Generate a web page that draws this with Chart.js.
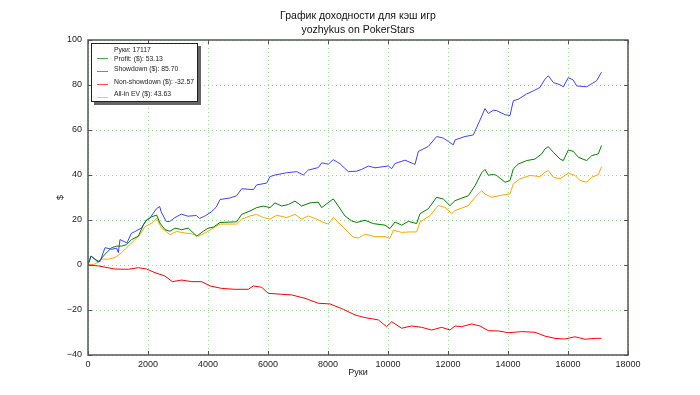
<!DOCTYPE html>
<html>
<head>
<meta charset="utf-8">
<script src="https://cdn.jsdelivr.net/npm/chart.js@4"></script>
<style>
  html, body { margin: 0; padding: 0; background: #fff; }
  #wrap { position: relative; width: 700px; height: 395px; }
  #legend {
    position: absolute; left: 91px; top: 43px; width: 105px; height: 57px;
    border: 1px solid #222; background: #fff; box-shadow: 3px 3px 0 #666;
    font-family: 'Liberation Sans', Arial, sans-serif; font-size: 6.8px; color: #222;
  }
  #legend .txt { position: absolute; left: 22px; line-height: 8px; white-space: nowrap; }
  #legend .swatch { position: absolute; left: 5px; width: 11px; height: 1px; opacity: 0.7; }
</style>
</head>
<body>
<div id="wrap">
  <canvas id="chart" width="700" height="395"></canvas>
  <div id="legend"></div>
</div>
<script>
  const chartTitle = ['График доходности для кэш игр', 'yozhykus on PokerStars'];
  const xLabel = 'Руки';
  const yLabel = '$';
  const handsTotal = 17117;

  const showdownHands = [0, 100, 300, 400, 567, 800, 955, 1011, 1066, 1300, 1440, 1780, 1945, 2055, 2280, 2390, 2440, 2610, 2720, 2890, 3110, 3330, 3610, 3720, 3890, 4110, 4280, 4400, 4733, 4955, 5122, 5511, 5622, 5955, 6066, 6233, 6622, 6955, 7177, 7344, 7677, 7789, 8011, 8177, 8400, 8677, 8955, 9122, 9344, 9566, 10011, 10122, 10233, 10566, 10900, 11011, 11344, 11622, 11844, 12011, 12177, 12233, 12566, 12844, 13066, 13233, 13344, 13511, 13622, 13900, 14066, 14177, 14344, 14622, 14844, 15066, 15233, 15344, 15511, 15733, 15844, 16011, 16177, 16288, 16622, 16733, 16955, 17117];
  const showdownVals = [0, 4, 2, 1.5, 7.7, 7, 7.5, 5.5, 11.3, 9.8, 14, 16.4, 20, 20.7, 25, 26, 23.6, 19.3, 19.3, 21, 22.6, 21.7, 22, 20.7, 21.7, 23.6, 25.8, 29.1, 29.8, 30.8, 33.9, 33.5, 35.6, 36.4, 39.3, 40, 41, 41.5, 40, 42.2, 43.3, 45.4, 44.8, 46.8, 45, 41.5, 41.7, 42.5, 44, 43.2, 44, 42.8, 45.1, 46.6, 44.7, 50.5, 52.7, 57.1, 56.4, 54.9, 53.4, 55.6, 57.1, 57.8, 64.4, 69.5, 67.3, 68.8, 68.6, 66.8, 66.4, 73, 73.7, 76, 77.4, 78.9, 82.6, 84.1, 81.1, 80.1, 79.2, 83.3, 82.2, 79.6, 79.2, 80.1, 81.9, 85.7];

  const profitHands = [0, 100, 344, 567, 789, 955, 1122, 1289, 1455, 1678, 1845, 1955, 2122, 2289, 2400, 2567, 2733, 2900, 3122, 3344, 3622, 3844, 4011, 4178, 4400, 4955, 5122, 5400, 5622, 5844, 6066, 6233, 6455, 6677, 6900, 7122, 7400, 7677, 7789, 7955, 8177, 8344, 8566, 8789, 8955, 9233, 9511, 9900, 10066, 10233, 10455, 10678, 10955, 11066, 11344, 11622, 11844, 12066, 12233, 12678, 12900, 13122, 13233, 13344, 13511, 13622, 13900, 14066, 14177, 14344, 14622, 14900, 15122, 15233, 15344, 15511, 15733, 15844, 16011, 16177, 16344, 16622, 16789, 17011, 17117];
  const profitVals = [0, 4, 1.2, 4.8, 7.7, 8.4, 8.4, 9.1, 11.3, 12.8, 17.8, 20, 21.4, 22.2, 18.6, 15.7, 15, 16.4, 15.7, 16.4, 12.8, 15, 16.4, 16.8, 18.9, 19.2, 22.5, 24, 25.5, 26.2, 25.5, 27.6, 26.2, 26.9, 28.4, 26.2, 27.6, 27.9, 25.5, 27.2, 29.4, 26.2, 21.8, 19.6, 18.9, 19.9, 18.4, 17.7, 16.2, 19.1, 17.7, 19.4, 18.4, 22.8, 25, 30.1, 29.3, 26.4, 28.6, 30.8, 35.2, 41, 42.5, 39.9, 40.3, 39.8, 36.8, 37.5, 42.7, 44.9, 46.4, 47.1, 49.4, 51.6, 52.6, 50.1, 47.1, 46.4, 51.1, 50.5, 47.9, 46.4, 48.6, 49.4, 53.13];

  const nonShowdownHands = [0, 344, 900, 1344, 1678, 1955, 2233, 2567, 2811, 3122, 3455, 3789, 4067, 4455, 4900, 5344, 5511, 5789, 6011, 6455, 6789, 7233, 7678, 8066, 8511, 8900, 9233, 9678, 9955, 10122, 10455, 10789, 11122, 11455, 11789, 12066, 12233, 12455, 12789, 13066, 13344, 13678, 14011, 14455, 14900, 15233, 15567, 15900, 16233, 16567, 16900, 17117];
  const nonShowdownVals = [0, -0.4, -1.8, -1.9, -1.2, -1.8, -3.4, -4.9, -7.4, -6.7, -7.4, -7.4, -9.3, -10.4, -10.8, -10.8, -9.3, -9.9, -12.6, -13, -13.3, -14.8, -17, -17.3, -19.7, -22.2, -23.4, -24.4, -27.4, -25.2, -28.1, -27.1, -27.7, -28.9, -27.7, -28.9, -27.1, -27.4, -26.2, -27.1, -29.2, -29.3, -30.1, -29.6, -29.9, -31.6, -32.6, -32.9, -31.9, -33, -32.6, -32.57];

  const allInHands = [0, 233, 455, 678, 900, 1122, 1344, 1567, 1733, 1900, 2122, 2289, 2455, 2733, 2955, 3233, 3455, 3678, 3900, 4178, 4400, 4955, 5122, 5400, 5622, 5844, 6066, 6289, 6622, 6900, 7122, 7344, 7622, 7844, 8011, 8177, 8400, 8622, 8844, 9011, 9233, 9566, 9900, 10066, 10178, 10455, 10733, 10955, 11066, 11400, 11678, 11900, 12122, 12233, 12678, 12900, 13122, 13233, 13455, 13733, 14066, 14177, 14400, 14733, 15066, 15233, 15344, 15511, 15733, 16011, 16233, 16400, 16622, 16789, 17011, 17117];
  const allInVals = [0, 0.4, 2.6, 2.6, 3.3, 5.5, 8.4, 11.3, 13.5, 17.1, 18.6, 20.7, 16.4, 13.5, 14.9, 14.2, 13.9, 12.8, 14.2, 16.4, 18.2, 18.2, 20.4, 21.8, 22.5, 21.1, 20.4, 22.1, 21.1, 22.5, 20.4, 21.8, 20.4, 18.9, 18.2, 21.1, 18.2, 15.3, 12.4, 12, 13.7, 12.6, 12.6, 11.8, 15.5, 14.5, 14.7, 14.7, 19.1, 22, 26.4, 25.7, 22.8, 24.2, 26.4, 30.1, 33, 31.5, 30.1, 30.9, 31.6, 36.1, 38.3, 39.8, 39.3, 41.2, 42, 39, 38.3, 40.8, 39.8, 37.5, 36.8, 39, 40.2, 43.63];

  const seriesNames = ['Profit: ($)', 'Showdown ($)', 'Non-showdown ($)', 'All-in EV ($)'];
  const seriesColors = ['#008000', '#4040ff', '#ff0000', '#ffa500'];
  const seriesHands = [profitHands, showdownHands, nonShowdownHands, allInHands];
  const seriesVals = [profitVals, showdownVals, nonShowdownVals, allInVals];

  const xTicks = [0, 2000, 4000, 6000, 8000, 10000, 12000, 14000, 16000, 18000];
  const yTicks = [-40, -20, 0, 20, 40, 60, 80, 100];

  const minus = (v) => String(v).replace('-', '\u2212');
  const tickFont = { family: 'Liberation Sans', size: 9 };
  const gridStyle = { color: 'rgba(120,200,120,0.7)', lineWidth: 1, drawTicks: false };

  // matplotlib-style frame with inward tick marks on all four sides
  const framePlugin = {
    id: 'frame',
    afterDatasetsDraw(chart) {
      const { ctx, chartArea: a, scales } = chart;
      ctx.save();
      ctx.strokeStyle = '#555';
      ctx.lineWidth = 1;
      ctx.beginPath();
      xTicks.forEach((t) => {
        const x = Math.round(scales.x.getPixelForValue(t)) + 0.5;
        ctx.moveTo(x, a.bottom); ctx.lineTo(x, a.bottom - 4);
        ctx.moveTo(x, a.top); ctx.lineTo(x, a.top + 4);
      });
      yTicks.forEach((t) => {
        const y = Math.round(scales.y.getPixelForValue(t)) + 0.5;
        ctx.moveTo(a.left, y); ctx.lineTo(a.left + 4, y);
        ctx.moveTo(a.right, y); ctx.lineTo(a.right - 4, y);
      });
      ctx.stroke();
      ctx.lineWidth = 1.5;
      ctx.strokeRect(a.left, a.top, a.right - a.left, a.bottom - a.top);
      ctx.restore();
    },
  };

  new Chart(document.getElementById('chart'), {
    type: 'line',
    data: {
      datasets: seriesNames.map((name, i) => ({
        label: name,
        data: seriesHands[i].map((h, j) => ({ x: h, y: seriesVals[i][j] })),
        borderColor: seriesColors[i],
        borderWidth: 1,
        pointRadius: 0,
        tension: 0,
        fill: false,
      })),
    },
    options: {
      responsive: false,
      animation: false,
      layout: { padding: { left: 0, right: 72, top: 0, bottom: 0 } },
      plugins: {
        legend: { display: false },
        tooltip: { enabled: false },
        title: {
          display: true,
          fullSize: false,
          text: chartTitle,
          color: '#111',
          font: { family: 'Liberation Sans', size: 10.5, weight: 'normal', lineHeight: 1.25 },
          padding: { top: 10, bottom: 3.75 },
        },
      },
      scales: {
        x: {
          type: 'linear',
          min: 0,
          max: 18000,
          afterFit: (s) => { s.height = 40; },
          afterBuildTicks: (s) => { s.ticks = xTicks.map((v) => ({ value: v })); },
          ticks: { color: '#222', font: tickFont, padding: 4, maxRotation: 0, callback: (v) => String(v) },
          grid: gridStyle,
          border: { display: false, dash: [1, 3] },
          title: { display: true, text: xLabel, color: '#222', font: tickFont, padding: { top: 0, bottom: 17.5 } },
        },
        y: {
          min: -40,
          max: 100,
          afterFit: (s) => { s.width = 88; },
          afterBuildTicks: (s) => { s.ticks = yTicks.map((v) => ({ value: v })); },
          ticks: { color: '#222', font: tickFont, padding: 6, callback: (v) => minus(v) },
          grid: gridStyle,
          border: { display: false, dash: [1, 3] },
          title: { display: true, text: yLabel, color: '#222', font: tickFont, padding: { top: 55, bottom: 0 } },
        },
      },
    },
    plugins: [framePlugin],
  });

  // legend box drawn as html so it can carry the matplotlib-like shadow
  const legendEl = document.getElementById('legend');
  const textTops = [2, 11, 21, 33.5, 46];
  const swatchTops = [14, 27, 40, 53];
  const legendRows = ['Руки: ' + handsTotal].concat(
    seriesNames.map((n, i) => n + ': ' + seriesVals[i][seriesVals[i].length - 1].toFixed(2))
  );
  legendRows.forEach((t, i) => {
    const d = document.createElement('div');
    d.className = 'txt';
    d.style.top = textTops[i] + 'px';
    d.textContent = t;
    legendEl.appendChild(d);
    if (i > 0) {
      const s = document.createElement('div');
      s.className = 'swatch';
      s.style.top = swatchTops[i - 1] + 'px';
      s.style.background = seriesColors[i - 1];
      legendEl.appendChild(s);
    }
  });
</script>
</body>
</html>
